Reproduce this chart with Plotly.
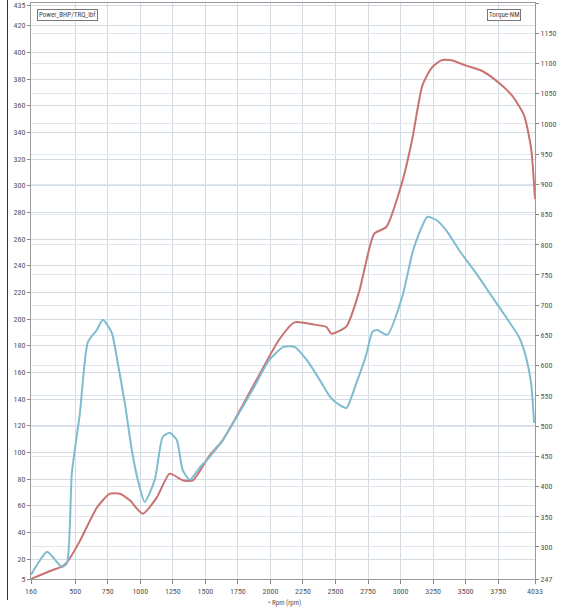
import plotly.graph_objects as go

# Power (left axis, BHP)
power_rpm = [160, 306, 405, 444, 536, 666, 766, 843, 919, 1019, 1126, 1226, 1326, 1403, 1533,
             1633, 1863, 2070, 2185, 2323, 2430, 2469, 2584, 2683, 2798, 2890, 3013, 3090,
             3167, 3236, 3312, 3389, 3504, 3627, 3757, 3857, 3949, 4003, 4033]
power_val = [5, 11, 14.7, 18.5, 33.6, 58.5, 69, 69, 64, 54, 66, 84, 79, 79, 97.8,
             109, 149, 185, 197.5, 196, 194, 189, 194.5, 221, 264, 269, 303, 335,
             375, 388, 394, 394, 390, 386, 377, 367.5, 352.7, 328, 290]

# Torque (right axis, Nm)
torque_rpm = [160, 214, 283, 329, 398, 436, 474, 536, 597, 666, 712, 781, 827, 881, 935, 981,
              1034, 1111, 1172, 1226, 1280, 1326, 1380, 1456, 1533, 1633, 1863, 1990, 2100,
              2185, 2280, 2380, 2460, 2530, 2584, 2660, 2740, 2783, 2821, 2898, 3013, 3090,
              3144, 3205, 3274, 3351, 3450, 3580, 3703, 3811, 3911, 3964, 4003, 4026]
torque_val = [254, 273, 292, 283, 267, 273, 422, 522, 639, 659, 676, 654, 604, 538, 460, 411,
              374.5, 411, 482, 489, 477, 427, 411, 431, 449, 477, 560, 609, 631,
              631, 609, 576, 548, 535, 530, 571, 621, 656, 659, 651, 714, 786,
              819.5, 846, 841, 824, 791, 753, 714, 680, 647, 614, 571, 505]

x_ticks = [160, 500, 750, 1000, 1250, 1500, 1750, 2000, 2250, 2500, 2750, 3000, 3250, 3500, 3750, 4033]
y_left_ticks = [5] + list(range(20, 421, 20)) + [435]
y_right_ticks = [247] + list(range(300, 1151, 50)) + [1200]

FONT = "Liberation Sans Narrow, Roboto Condensed, Liberation Sans, Arial, sans-serif"
GRID = "#d3dbe5"
TICKC = "#555555"

fig = go.Figure()
fig.add_trace(go.Scatter(x=power_rpm, y=power_val, mode="lines", name="Power_BHP/TRQ_lbf",
                         line=dict(color="#c97272", width=2, shape="spline", smoothing=0.6)))
fig.add_trace(go.Scatter(x=torque_rpm, y=torque_val, mode="lines", name="Torque-NM", yaxis="y2",
                         line=dict(color="#7fbcd0", width=2, shape="spline", smoothing=0.6)))

W, H = 567, 613
L, R, T, B = 31, 32, 3, 34
pw, ph = W - L - R, H - T - B

def px(x):
    return (x - L) / pw

def py(y):
    return (H - B - y) / ph

fig.update_layout(
    width=W, height=H,
    margin=dict(l=L, r=R, t=T, b=B, autoexpand=False),
    paper_bgcolor="white", plot_bgcolor="white",
    showlegend=False,
    font=dict(family=FONT, size=8, color=TICKC),
    xaxis=dict(range=[160, 4033], tickvals=x_ticks, ticktext=[str(v) for v in x_ticks],
               showgrid=True, gridcolor=GRID, gridwidth=1, zeroline=False, automargin=False,
               showline=True, linecolor="#9a9a9a", mirror=True,
               ticks="outside", ticklen=4, tickcolor="#888", tickfont=dict(size=8, color=TICKC)),
    yaxis=dict(range=[5, 437], tickvals=y_left_ticks, ticktext=[str(v) for v in y_left_ticks],
               showgrid=True, gridcolor=GRID, gridwidth=1, zeroline=False, automargin=False,
               showline=True, linecolor="#9a9a9a", mirror=True,
               ticks="outside", ticklen=3, tickcolor="#888", tickfont=dict(size=8, color=TICKC)),
    yaxis2=dict(range=[247, 1200], overlaying="y", side="right",
                tickvals=y_right_ticks, ticktext=[str(v) for v in y_right_ticks],
                showgrid=True, gridcolor="#e1e6ee", gridwidth=1, zeroline=False, automargin=False,
                showline=True, linecolor="#9a9a9a",
                ticks="outside", ticklen=3, tickcolor="#888", tickfont=dict(size=8, color=TICKC)),
    annotations=[
        dict(text="Power_BHP/TRQ_lbf", xref="paper", yref="paper", x=px(37), y=py(9),
             xanchor="left", yanchor="top", showarrow=False,
             font=dict(size=7, color="#444", family=FONT),
             bordercolor="#777", borderwidth=1, borderpad=1, bgcolor="white"),
        dict(text="Torque-NM", xref="paper", yref="paper", x=px(521), y=py(9),
             xanchor="right", yanchor="top", showarrow=False,
             font=dict(size=7, color="#444", family=FONT),
             bordercolor="#777", borderwidth=1, borderpad=1, bgcolor="white"),
        dict(text="• Rpm (rpm)", xref="paper", yref="paper", x=px(284), y=py(603),
             xanchor="center", yanchor="middle", showarrow=False,
             font=dict(size=7, color="#555", family=FONT)),
        # outer window frame (left edge)
        dict(text="&nbsp;", xref="paper", yref="paper", x=px(7), y=py(300),
             xanchor="center", yanchor="middle", showarrow=False, width=1, height=600,
             bgcolor="#333333", bordercolor="#333333", borderwidth=0, borderpad=0,
             font=dict(size=6, color="#333333")),
    ],
)

fig.write_html("out.html", config={"displayModeBar": False},
               post_script="document.body.style.margin='0';document.body.style.padding='0';")
